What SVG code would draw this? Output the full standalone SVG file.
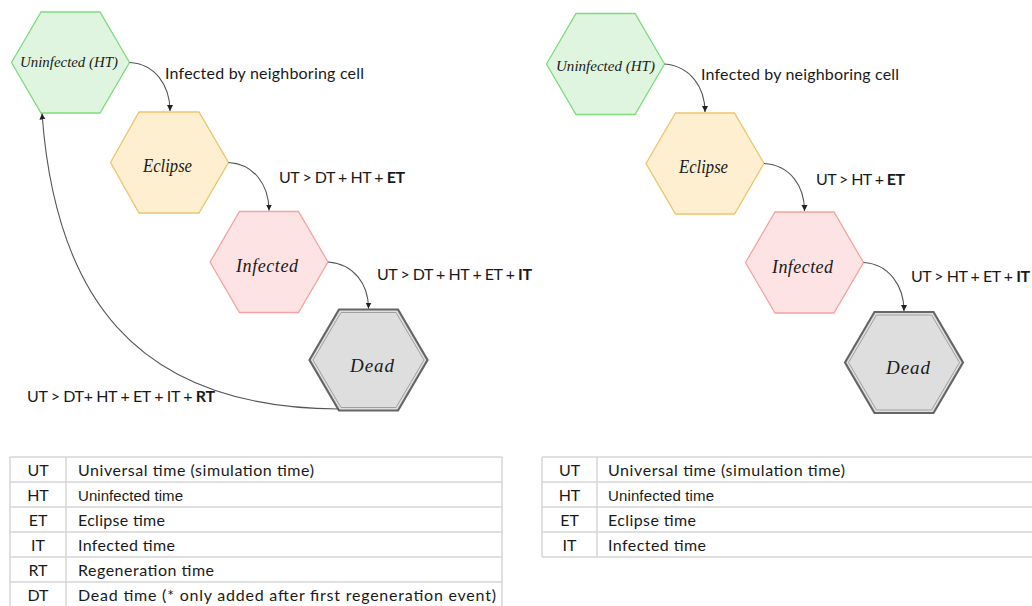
<svg xmlns="http://www.w3.org/2000/svg" width="1032" height="606" viewBox="0 0 1032 606">
<style>
  .lbl { font-family: Lato, "Open Sans", "Liberation Sans", sans-serif; font-size: 16px; fill: #1a1a1a; }
  .node { font-family: "Liberation Serif", "DejaVu Serif", serif; font-style: italic; fill: #1a1a1a; }
  .arial { font-family: "Liberation Sans", Arial, sans-serif; font-size: 15px; fill: #1a1a1a; }
  .b { font-weight: bold; }
  .unin { fill: #dff5df; stroke: #7ddc7d; stroke-width: 1.3; }
  .ecl { fill: #fdefd0; stroke: #efc46c; stroke-width: 1.3; }
  .inf { fill: #fde3e3; stroke: #f5a3a0; stroke-width: 1.3; }
  .dead { fill: #dedede; stroke: #666; stroke-width: 2.2; }
  .deadin { fill: none; stroke: #a0a0a0; stroke-width: 1; }
  .conn { fill: none; stroke: #555; stroke-width: 1.1; marker-end: url(#arr); }
  .grid { fill: none; stroke: #d6d6d6; stroke-width: 1.5; }
</style>
<defs>
  <marker id="arr" markerUnits="userSpaceOnUse" markerWidth="7" markerHeight="7" refX="6" refY="3" orient="auto">
    <path d="M0,0 L6,3 L0,6 z" fill="#222"/>
  </marker>
</defs>
<rect width="1032" height="606" fill="#ffffff"/>

<!-- LEFT PANEL NODES -->
<g id="L-uninfected">
  <polygon class="unin" points="11.5,62.5 41,12 100,12 129.5,62.5 100,113 41,113"/>
  <text class="node" x="20" y="67" font-size="15" textLength="98" lengthAdjust="spacingAndGlyphs">Uninfected (HT)</text>
</g>
<g id="L-eclipse">
  <polygon class="ecl" points="110.5,162.5 139,112 199,112 228.5,162.5 199,213 139,213"/>
  <text class="node" x="143" y="172" font-size="18" textLength="49" lengthAdjust="spacingAndGlyphs">Eclipse</text>
</g>
<g id="L-infected">
  <polygon class="inf" points="210,262 239.5,211.5 298.5,211.5 328,262 298.5,312.5 239.5,312.5"/>
  <text class="node" x="236" y="272" font-size="18" textLength="62">Infected</text>
</g>
<g id="L-dead">
  <polygon class="dead" points="309.5,360 339,309.5 398,309.5 427.5,360 398,410.5 339,410.5"/>
  <polygon class="deadin" points="313,360 341,312.5 396,312.5 424,360 396,407.5 341,407.5"/>
  <text class="node" x="350" y="372" font-size="19" textLength="44">Dead</text>
</g>

<!-- RIGHT PANEL NODES -->
<g id="R-uninfected">
  <polygon class="unin" points="546.5,64 576,13.5 635,13.5 664.5,64 635,114.5 576,114.5"/>
  <text class="node" x="556" y="71" font-size="15" textLength="99" lengthAdjust="spacingAndGlyphs">Uninfected (HT)</text>
</g>
<g id="R-eclipse">
  <polygon class="ecl" points="646,163.5 675.5,113 734.5,113 764,163.5 734.5,214 675.5,214"/>
  <text class="node" x="679" y="173" font-size="18" textLength="49" lengthAdjust="spacingAndGlyphs">Eclipse</text>
</g>
<g id="R-infected">
  <polygon class="inf" points="745.5,262.5 775,212 834,212 863.5,262.5 834,313 775,313"/>
  <text class="node" x="772" y="273" font-size="18" textLength="61">Infected</text>
</g>
<g id="R-dead">
  <polygon class="dead" points="845,362.5 874.5,312 933.5,312 963,362.5 933.5,413 874.5,413"/>
  <polygon class="deadin" points="848.5,362.5 876.5,315 931.5,315 959.5,362.5 931.5,410 876.5,410"/>
  <text class="node" x="886" y="374" font-size="19" textLength="44">Dead</text>
</g>

<!-- CONNECTORS -->
<g id="connectors">
  <path class="conn" d="M129.5,62.5 C155,64 170,85 170,111"/>
  <path class="conn" d="M228.5,162.5 C254,164 269,185 269,210.5"/>
  <path class="conn" d="M328,262 C354,264 368.5,284 368.5,308.5"/>
  <path class="conn" d="M339,409 C130,408 55,290 42,113.5"/>
  <path class="conn" d="M664.5,64 C690,66 705,87 705,112"/>
  <path class="conn" d="M764,163.5 C790,165 804.5,186 804.5,211"/>
  <path class="conn" d="M863.5,262.5 C889,264 904,286 904,311"/>
</g>

<!-- CONNECTOR LABELS -->
<g id="labels">
  <text class="lbl" x="165" y="79" textLength="199">Infected by neighboring cell</text>
  <text class="lbl" x="279" y="183" textLength="126">UT &gt; DT + HT + <tspan class="b">ET</tspan></text>
  <text class="lbl" x="377" y="280" textLength="155">UT &gt; DT + HT + ET + <tspan class="b">IT</tspan></text>
  <text class="lbl" x="27" y="402" textLength="188">UT &gt; DT+ HT + ET + IT + <tspan class="b">RT</tspan></text>
  <text class="lbl" x="701" y="80" textLength="198">Infected by neighboring cell</text>
  <text class="lbl" x="816" y="185" textLength="89">UT &gt; HT + <tspan class="b">ET</tspan></text>
  <text class="lbl" x="911" y="282" textLength="119">UT &gt; HT + ET + <tspan class="b">IT</tspan></text>
</g>

<!-- LEFT TABLE -->
<g id="L-table">
  <path class="grid" d="M10,457 H502 M10,482 H502 M10,507 H502 M10,532 H502 M10,557 H502 M10,582 H502 M10,607 H502 M10,457 V607 M66,457 V607 M502,457 V607"/>
  <g class="lbl" text-anchor="middle">
    <text x="38" y="476">UT</text>
    <text x="38" y="501">HT</text>
    <text x="38" y="526">ET</text>
    <text x="38" y="551">IT</text>
    <text x="38" y="576">RT</text>
    <text x="38" y="601">DT</text>
  </g>
  <text class="lbl" x="78" y="476" textLength="236">Universal time (simulation time)</text>
  <text class="arial" x="78" y="500.5" textLength="105">Uninfected time</text>
  <text class="lbl" x="78" y="526" textLength="87">Eclipse time</text>
  <text class="lbl" x="78" y="551" textLength="97">Infected time</text>
  <text class="lbl" x="78" y="576" textLength="136">Regeneration time</text>
  <text class="lbl" x="78" y="601" textLength="418">Dead time (* only added after first regeneration event)</text>
</g>

<!-- RIGHT TABLE -->
<g id="R-table">
  <path class="grid" d="M542,457 H1040 M542,482 H1040 M542,507 H1040 M542,532 H1040 M542,557 H1040 M542,457 V557 M597,457 V557"/>
  <g class="lbl" text-anchor="middle">
    <text x="569.5" y="476">UT</text>
    <text x="569.5" y="501">HT</text>
    <text x="569.5" y="526">ET</text>
    <text x="569.5" y="551">IT</text>
  </g>
  <text class="lbl" x="608" y="476" textLength="237">Universal time (simulation time)</text>
  <text class="arial" x="608" y="500.5" textLength="106">Uninfected time</text>
  <text class="lbl" x="608" y="526" textLength="88">Eclipse time</text>
  <text class="lbl" x="608" y="551" textLength="98">Infected time</text>
</g>
</svg>
